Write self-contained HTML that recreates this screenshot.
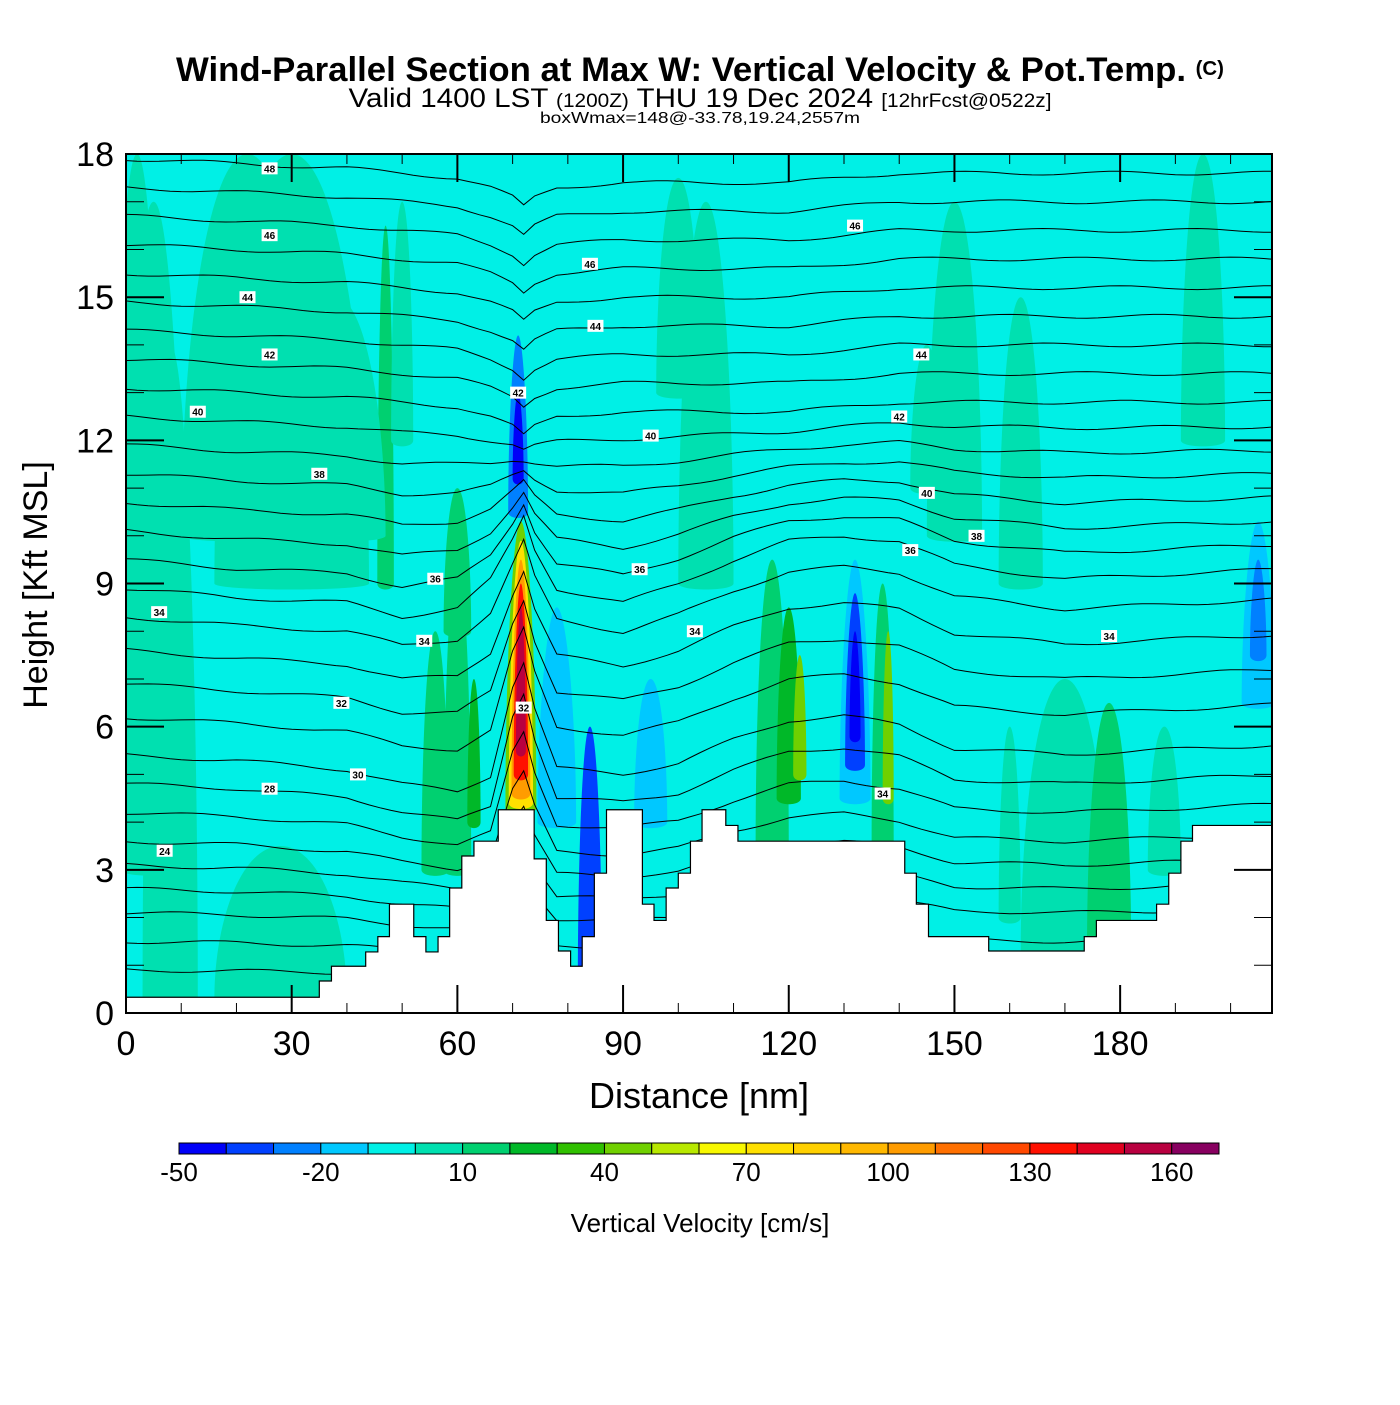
<!DOCTYPE html>
<html><head><meta charset="utf-8">
<style>
html,body{margin:0;padding:0;background:#fff;}
body{width:1400px;height:1400px;position:relative;overflow:hidden;font-family:"Liberation Sans",sans-serif;}
</style></head>
<body>
<svg id="chart" width="1400" height="1400" viewBox="0 0 1400 1400" xmlns="http://www.w3.org/2000/svg" font-family="Liberation Sans, sans-serif">
  <text x="700" y="81" text-anchor="middle" font-size="34" font-weight="bold" textLength="1048" lengthAdjust="spacingAndGlyphs">Wind-Parallel Section at Max W: Vertical Velocity &amp; Pot.Temp. <tspan font-size="20" dy="-6">(C)</tspan></text>
  <text x="700" y="107" text-anchor="middle" font-size="27" textLength="703" lengthAdjust="spacingAndGlyphs">Valid 1400 LST <tspan font-size="19">(1200Z)</tspan> THU 19 Dec 2024 <tspan font-size="19">[12hrFcst@0522z]</tspan></text>
  <text x="700" y="123" text-anchor="middle" font-size="16" textLength="320" lengthAdjust="spacingAndGlyphs">boxWmax=148@-33.78,19.24,2557m</text>
  <defs><clipPath id="plotclip"><rect x="126" y="154" width="1146" height="859"/></clipPath></defs>
  <g id="plot" clip-path="url(#plotclip)">
    <rect x="126" y="154" width="1146" height="859" fill="#00f0e6"/>
    <g id="fields"></g>
    <g id="contours"></g>
    <g id="terrain"></g>
    <g id="clabels"></g>
  </g>
  <rect x="126" y="154" width="1146" height="859" fill="none" stroke="#000" stroke-width="2"/>
  <g id="axes"></g>
  <text x="699" y="1108" text-anchor="middle" font-size="36">Distance [nm]</text>
  <text transform="translate(47,585) rotate(-90)" text-anchor="middle" font-size="34">Height [Kft MSL]</text>
  <g id="colorbar"></g>
  <text x="700" y="1232" text-anchor="middle" font-size="26">Vertical Velocity [cm/s]</text>
</svg>
<script>
// ---- data ----
const xTicks = [0,30,60,90,120,150,180];
const yTicks = [0,3,6,9,12,15,18];
const cbLevels = [-50,-40,-30,-20,-10,0,10,20,30,40,50,60,70,80,90,100,110,120,130,140,150,160,170];
const cbColors = ["#0000f8","#0040ff","#0080ff","#00c8ff","#00f0e6","#00e0b0","#00d070","#00b828","#30c000","#70d000","#b8e800","#f8f800","#ffe000","#ffd000","#ffb800","#ff9c00","#ff7000","#ff4800","#ff1000","#e00020","#b80040","#880060"];
const cbLabels = [-50,-20,10,40,70,100,130,160];
// terrain: step start (nm) and height (kft)
const terrX = [0,35,37.2,43.4,45.6,47.7,52.1,54.3,56.5,58.6,60.8,63,67.4,73.9,76.1,78.3,80.5,82.6,84.8,87,93.5,95.6,97.8,100,102.2,104.3,108.6,110.8,138.7,141,143.1,145.3,156.2,173.5,175.7,186.6,188.8,191,193.1];
const terrH = [0.33,0.67,0.98,1.28,1.6,2.28,1.6,1.28,1.6,2.62,3.29,3.6,4.26,3.23,1.94,1.3,0.98,1.6,2.93,4.26,2.28,1.94,2.62,2.93,3.6,4.26,3.93,3.6,3.6,2.93,2.28,1.6,1.3,1.6,1.94,2.28,2.93,3.6,3.93];
// vertical velocity features: center nm, bottom kft, top kft, half-width nm, value cm/s
const featX = [5,22,47,38,56,60,63,84,60,105,117,120,122,137,138,170,178,160,188,150,162,195,50,145,28,8,100,95,2,30];
const featB = [3,10,9,10,3,3,4,0.5,8,9,3.5,4.5,5,3.5,4.5,1.3,1.3,2,3,10,9,12,12,11,0.3,0.3,13,4,9,9];
const featT = [17,18,16.5,15,8,9.5,7,6,11,17,9.5,8.5,7.5,9,8,7,6.5,6,6,17,15,18,17,14,3.5,14,17.5,7,18,18];
const featW = [6,12,1.5,9,2.5,2.5,1.2,2.2,2.5,5,3,2.2,1.2,2,1,8,4,2,3,5,4,4,2,3,12,5,4,3,4,14];
const featV = [5,5,15,5,15,15,25,-35,15,5,15,25,45,15,40,5,10,5,5,5,5,5,5,5,5,5,5,-15,5,5];
// updraft / downdraft cores (nested)
const coreX = [71.5,71.5,71.5,71.5,71.5,71,71,132,132,132,78,205,205];
const coreB = [4.3,4.4,4.6,5,5.5,10.5,11.2,4.5,5.2,5.8,4,6.5,7.5];
const coreT = [10.3,9.9,9.5,9,8.5,14.2,13,9.5,8.8,8,8.5,10.3,9.5];
const coreW = [2.8,2.2,1.7,1.3,0.9,1.8,1,2.8,1.8,1,3.5,3,1.5];
const coreV = [45,75,105,135,155,-25,-45,-15,-35,-45,-15,-15,-25];
// potential temperature contour base heights (kft)
const thBase = [0.9,1.5,2.1,2.6,3.1,3.6,4.2,4.8,5.4,6.2,6.9,7.6,8.3,8.9,9.5,10.1,10.7,11.3,11.9,12.5,13.1,13.7,14.3,14.9,15.5,16.1,16.7,17.3,17.9];
const pertX = [0,20,40,50,60,66,70,72,74,78,90,100,110,120,130,140,150,170,208];
const pertUp = [0,-0.1,-0.2,-0.3,-0.4,-0.6,-0.8,-1.0,-0.8,-0.6,-0.5,-0.5,-0.5,-0.5,-0.4,-0.3,-0.3,-0.3,-0.3];
const pertMid = [0,-0.2,-0.3,-0.6,-0.4,0.2,1.0,1.5,0.8,0,-0.3,0.1,0.6,1.0,1.1,1.0,0.5,0.2,0.4];
const pertLow = [0,-0.1,-0.3,-0.6,-0.8,-0.5,1.5,2.0,1.0,-0.3,-0.4,-0.2,0.3,0.7,0.8,0.6,0.1,0.0,0.2];
const labX = [26,26,22,26,13,35,56,54,39,42,26,6,7,71,84,85,95,93,103,132,144,140,145,142,154,178,72,137];
const labH = [17.7,16.3,15,13.8,12.6,11.3,9.1,7.8,6.5,5,4.7,8.4,3.4,13,15.7,14.4,12.1,9.3,8.0,16.5,13.8,12.5,10.9,9.7,10,7.9,6.4,4.6];
const labT = ["48","46","44","42","40","38","36","34","32","30","28","34","24","42","46","44","40","36","34","46","44","42","40","36","38","34","32","34"];
// ---- scales ----
const X0=126, PX=5.523, Y0=1013, PY=47.72;
const sx = v => X0 + v*PX;
const sy = v => Y0 - v*PY;
const NS="http://www.w3.org/2000/svg";
function mk(tag, attrs, parent){const e=document.createElementNS(NS,tag);for(const k in attrs)e.setAttribute(k,attrs[k]);parent.appendChild(e);return e;}
function colorFor(v){for(let i=0;i<cbColors.length;i++){if(v<cbLevels[i+1])return cbColors[i];}return cbColors[cbColors.length-1];}
// fields
const fg=document.getElementById('fields');
function blob(cx,top,bot,w,k){
  const mid=(top+bot)/2;
  return `M${cx-w},${bot} C${cx-w},${mid} ${cx-w*k},${top} ${cx},${top} C${cx+w*k},${top} ${cx+w},${mid} ${cx+w},${bot} C${cx+w},${bot+8} ${cx-w},${bot+8} ${cx-w},${bot} Z`;
}
for(let i=0;i<featX.length;i++){
  const e=mk('path',{d:blob(sx(featX[i]),sy(featT[i]),sy(featB[i]),featW[i]*PX,0.6),fill:colorFor(featV[i])},fg);
  
  
}
for(let i=0;i<coreX.length;i++){
  const e=mk('path',{d:blob(sx(coreX[i]),sy(coreT[i]),sy(coreB[i]),coreW[i]*PX,0.5),fill:colorFor(coreV[i])},fg);
  
  
}
// contours
function interp(arr,x){for(let i=0;i<pertX.length-1;i++){if(x<=pertX[i+1]){const t=(x-pertX[i])/(pertX[i+1]-pertX[i]);return arr[i]+t*(arr[i+1]-arr[i]);}}return arr[arr.length-1];}
const cg=document.getElementById('contours');
thBase.forEach((h)=>{
  let d='';
  for(let x=0;x<=208;x+=2){
    let p;
    if(h>=13) p=interp(pertUp,x);
    else if(h>=9){const t=(h-9)/4;p=interp(pertMid,x)*(1-t)+interp(pertUp,x)*t;}
    else if(h>=5){const t=(h-5)/4;p=interp(pertLow,x)*(1-t)+interp(pertMid,x)*t;}
    else p=interp(pertLow,x)*(h/5);
    const wig=0.04*Math.sin(x*0.23+h*2.7);
    d+=(x===0?'M':'L')+sx(x).toFixed(1)+','+sy(h+p+wig).toFixed(1);
  }
  const e=mk('path',{d:d,fill:'none',stroke:'#000','stroke-width':1},cg);
  
  
});
// terrain
const tg=document.getElementById('terrain');
let td=`M${sx(0)},${sy(-1)}`;
for(let i=0;i<terrX.length;i++){
  const x1=sx(terrX[i]), x2=sx(i+1<terrX.length?terrX[i+1]:208);
  td+=` L${x1},${sy(terrH[i])} L${x2},${sy(terrH[i])}`;
}
td+=` L${sx(208)},${sy(-1)} Z`;
const te=mk('path',{d:td,fill:'#fff',stroke:'#000','stroke-width':1.2},tg);


// labels
const lg=document.getElementById('clabels');
for(let i=0;i<labX.length;i++){
  const x=sx(labX[i]), y=sy(labH[i]);
  const r=mk('rect',{x:x-8,y:y-6,width:16,height:12,fill:'#fff'},lg);
  
  
  const t=mk('text',{x:x,y:y+4,'text-anchor':'middle','font-size':10,'font-weight':'bold'},lg);
  t.textContent=labT[i];
  
  
}
// axes
const ag=document.getElementById('axes');
for(let v=0;v<=207;v+=10){
  const x=sx(v), major=(v%30===0);
  const L=major?28:10;
  mk('line',{x1:x,y1:1013,x2:x,y2:1013-L,stroke:'#000','stroke-width':major?2:1},ag);
  mk('line',{x1:x,y1:154,x2:x,y2:154+L,stroke:'#000','stroke-width':major?2:1},ag);
}
xTicks.forEach(v=>{
  const t=mk('text',{x:sx(v),y:1055,'text-anchor':'middle','font-size':34},ag);
  t.textContent=v;
  
  
});
for(let v=0;v<=18;v++){
  const y=sy(v), major=(v%3===0);
  const L=major?38:18;
  mk('line',{x1:126,y1:y,x2:126+L,y2:y,stroke:'#000','stroke-width':major?2:1},ag);
  mk('line',{x1:1272,y1:y,x2:1272-L,y2:y,stroke:'#000','stroke-width':major?2:1},ag);
}
yTicks.forEach(v=>{
  const t=mk('text',{x:114,y:sy(v)+12,'text-anchor':'end','font-size':34},ag);
  t.textContent=v;
  
  
});
// colorbar
const cbg=document.getElementById('colorbar');
const cbX0=179, cbW=1040/cbColors.length;
cbColors.forEach((c,i)=>{
  const r=mk('rect',{x:cbX0+i*cbW,y:1143,width:cbW,height:11,fill:c,stroke:'#000','stroke-width':1},cbg);
  
  
});
cbLabels.forEach(v=>{
  const t=mk('text',{x:cbX0+(v-cbLevels[0])/10*cbW,y:1181,'text-anchor':'middle','font-size':26},cbg);
  t.textContent=v;
  
  
});
</script>
</body></html>
